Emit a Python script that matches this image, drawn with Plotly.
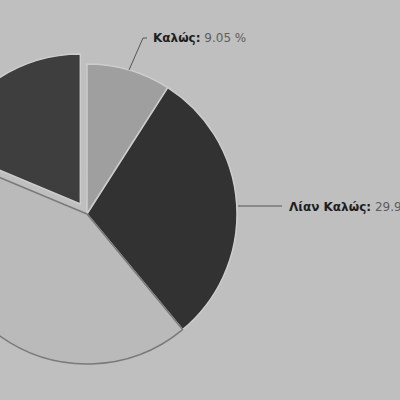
import plotly.graph_objects as go

# Data
labels = ["Καλώς", "Λίαν Καλώς", "Άριστα", "Σχεδόν Καλώς"]
values = [9.05, 29.95, 42.3, 18.7]
colors = ["#9f9f9f", "#323232", "#bababa", "#3e3e3e"]
edge_colors = ["#cdcdcd", "#cdcdcd", "#7a7a7a", "#cdcdcd"]
pulls = [0, 0, 0, 0.08]

# Layout constants (figure is wider than the window; shifted left so the pie is cropped)
SHIFT = 80
W, H = 400 + SHIFT, 400
BG = "#bfbfbf"


def px(x):
    return (x + SHIFT) / W


def py(y):
    return 1 - y / H


fig = go.Figure()
fig.add_trace(go.Pie(
    labels=labels,
    values=values,
    sort=False,
    direction="clockwise",
    rotation=0,
    pull=pulls,
    textinfo="none",
    hoverinfo="label+percent",
    marker=dict(colors=colors, line=dict(color=edge_colors, width=1.5)),
    domain=dict(x=[px(87 - 162), px(87 + 162)], y=[py(214 + 162), py(214 - 162)]),
    showlegend=False,
))

# Label annotations (text built from data)
label_pos = [
    dict(idx=0, tx=151, ty=38, line=[(129, 70), (143, 38), (147, 38)]),
    dict(idx=1, tx=287, ty=207, line=[(238, 206), (282, 206)]),
]
shapes = []
annotations = []
for lp in label_pos:
    i = lp["idx"]
    pts = lp["line"]
    path = "M " + " L ".join(f"{px(x)} {py(y)}" for x, y in pts)
    shapes.append(dict(type="path", xref="paper", yref="paper", path=path,
                       line=dict(color="#555555", width=1)))
    annotations.append(dict(
        xref="paper", yref="paper", x=px(lp["tx"]), y=py(lp["ty"]),
        xanchor="left", yanchor="middle", showarrow=False,
        text=f"<b>{labels[i]}:</b> <span style='color:#5e5e5e'>{values[i]:.2f} %</span>",
        font=dict(family="DejaVu Sans", size=12, color="#1e1e1e"),
    ))

fig.update_layout(
    width=W, height=H,
    margin=dict(l=0, r=0, t=0, b=0),
    paper_bgcolor=BG, plot_bgcolor=BG,
    shapes=shapes, annotations=annotations,
)

post = ("document.body.style.margin='0';document.body.style.overflow='hidden';"
        "var d=document.getElementById('{plot_id}');d.style.marginLeft='-%dpx';" % SHIFT)
fig.write_html("out.html", post_script=post, config={"displayModeBar": False})
